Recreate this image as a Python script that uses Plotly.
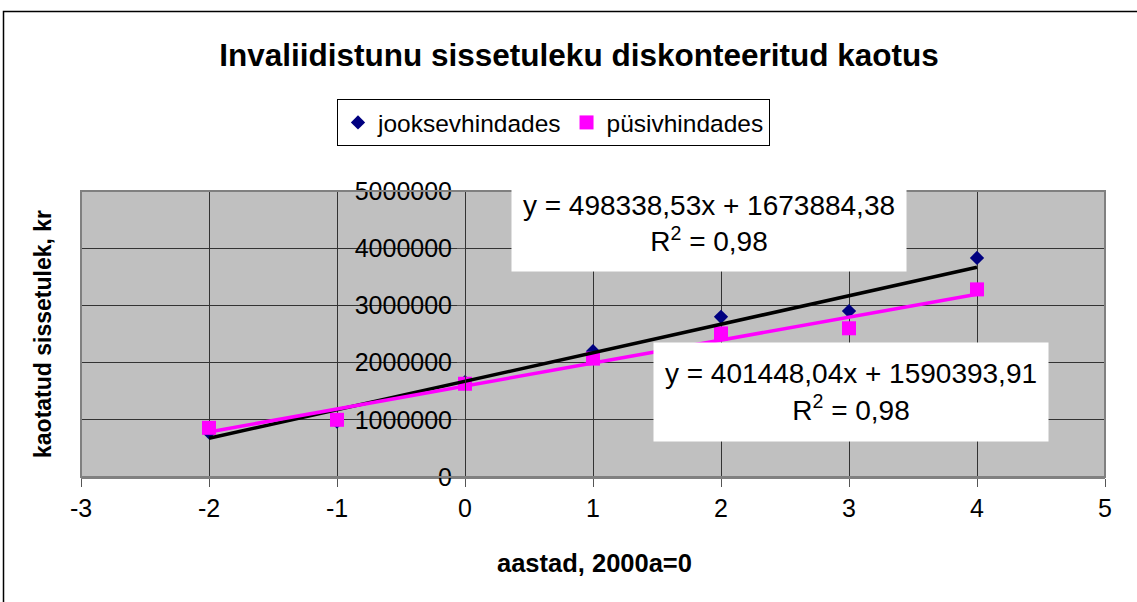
import plotly.graph_objects as go
import numpy as np

# Data
years = [-2, -1, 0, 1, 2, 3, 4]
jooksev = [780000, 970000, 1660000, 2200000, 2800000, 2900000, 3830000]
pusiv = [860000, 1000000, 1630000, 2070000, 2510000, 2600000, 3280000]
trend_jooksev = (498338.53, 1673884.38)
trend_pusiv = (401448.04, 1590393.91)
x_ticks = [-3, -2, -1, 0, 1, 2, 3, 4, 5]
y_ticks = [0, 1000000, 2000000, 3000000, 4000000, 5000000]

FONT = "Liberation Sans, Arial, sans-serif"

tx = np.array([min(years), max(years)], dtype=float)

fig = go.Figure()
fig.add_trace(go.Scatter(x=years, y=jooksev, mode="markers", name="jooksevhindades",
                         marker=dict(symbol="diamond", color="#000080", size=11)))
fig.add_trace(go.Scatter(x=years, y=pusiv, mode="markers", name="püsivhindades",
                         marker=dict(symbol="square", color="#FF00FF", size=14)))
fig.add_trace(go.Scatter(x=tx, y=trend_jooksev[0] * tx + trend_jooksev[1], mode="lines",
                         line=dict(color="black", width=3.5), showlegend=False, hoverinfo="skip"))
fig.add_trace(go.Scatter(x=tx, y=trend_pusiv[0] * tx + trend_pusiv[1], mode="lines",
                         line=dict(color="#FF00FF", width=3.5), showlegend=False, hoverinfo="skip"))

L, R, T, B = 81, 32, 191, 125
W, H = 1137 - L - R, 602 - T - B

def px_x(p):
    return (p - L) / W

def px_y(p):
    return (602 - B - p) / H

fig.update_layout(
    width=1137, height=602,
    margin=dict(l=L, r=R, t=T, b=B, autoexpand=False),
    paper_bgcolor="white",
    plot_bgcolor="#C0C0C0",
    font=dict(family=FONT, size=25, color="black"),
    title=dict(text="<b>Invaliidistunu sissetuleku diskonteeritud kaotus</b>",
               x=px_x(579), xref="paper", xanchor="center",
               y=1 - 55 / 602, yanchor="middle", font=dict(size=31.5, family=FONT)),
    showlegend=True,
    legend=dict(orientation="h", x=px_x(337), xanchor="left", y=px_y(99), yanchor="top",
                bordercolor="black", borderwidth=1, bgcolor="white",
                font=dict(size=24.5, family=FONT), itemwidth=30, tracegroupgap=0),
    xaxis=dict(range=[-3, 5], tickvals=x_ticks, ticktext=[str(v) for v in x_ticks],
               showgrid=True, gridcolor="#333333", gridwidth=1, zeroline=False,
               showline=True, linecolor="#808080", linewidth=2,
               ticks="outside", ticklen=8, tickcolor="#555555",
               tickfont=dict(size=25), automargin=False),
    yaxis=dict(range=[0, 5000000], tickvals=y_ticks, ticktext=[str(v) for v in y_ticks],
               anchor="free", position=3 / 8,
               showgrid=True, gridcolor="#333333", gridwidth=1, zeroline=False,
               showline=True, linecolor="#333333", linewidth=1,
               ticks="outside", ticklen=8, tickcolor="#555555",
               tickfont=dict(size=25), automargin=False),
)

# axis titles
fig.add_annotation(text="<b>kaotatud sissetulek, kr</b>", xref="paper", yref="paper",
                   x=px_x(43), y=px_y(334), xanchor="center", yanchor="middle",
                   textangle=-90, showarrow=False, font=dict(size=23, family=FONT))
fig.add_annotation(text="<b>aastad, 2000a=0</b>", xref="paper", yref="paper",
                   x=px_x(594), y=px_y(563), xanchor="center", yanchor="middle",
                   showarrow=False, font=dict(size=25.5, family=FONT))

# plot area border
fig.add_shape(type="rect", xref="paper", yref="paper", x0=0, x1=1, y0=0, y1=1,
              line=dict(color="#808080", width=2), layer="above")
# chart outer border
fig.add_shape(type="rect", xref="paper", yref="paper",
              x0=px_x(3.5), x1=px_x(1150), y0=px_y(615), y1=px_y(11.5),
              line=dict(color="black", width=1.5), layer="below")

# trendline equation labels
fig.add_annotation(text="y = 498338,53x + 1673884,38<br>R<sup>2</sup> = 0,98",
                   xref="paper", yref="paper", x=px_x(709), y=px_y(230),
                   xanchor="center", yanchor="middle",
                   showarrow=False, bgcolor="white", width=392, height=80,
                   align="center", valign="top", font=dict(size=28, family=FONT))
fig.add_annotation(text="y = 401448,04x + 1590393,91<br>R<sup>2</sup> = 0,98",
                   xref="paper", yref="paper", x=px_x(851), y=px_y(392),
                   xanchor="center", yanchor="middle",
                   showarrow=False, bgcolor="white", width=392, height=96,
                   align="center", font=dict(size=28, family=FONT))

fig.write_html("out.html", config={"displayModeBar": False},
               post_script="document.body.style.margin='0';")
